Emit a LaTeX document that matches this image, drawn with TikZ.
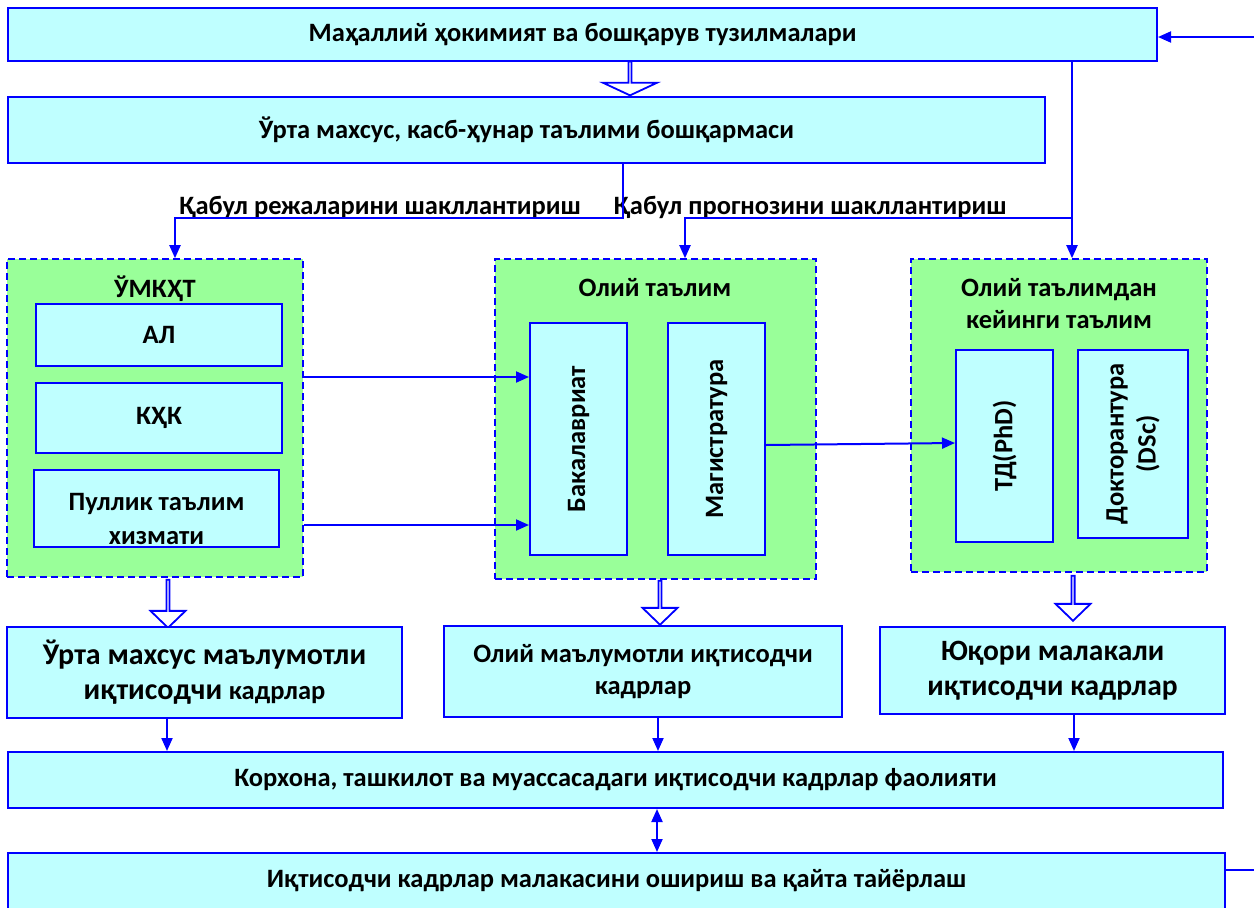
\documentclass[tikz,border=0pt]{standalone}
\usepackage{fontspec}
\setmainfont{Carlito}
\usetikzlibrary{positioning,arrows.meta,shapes.arrows}
\definecolor{boxcyan}{RGB}{191,255,255}
\definecolor{boxgreen}{RGB}{153,255,153}
\definecolor{lineblue}{RGB}{0,0,255}

\begin{document}
\begin{tikzpicture}[x=1pt, y=-1pt, >={Triangle[length=13pt,width=11pt]},
  every node/.style={font=\bfseries\fontsize{26.5}{32}\selectfont},
  box/.style={draw=lineblue, line width=2pt, fill=boxcyan, align=center, inner sep=0pt},
  group/.style={draw=lineblue, line width=1.6pt, dash pattern=on 7pt off 4pt, fill=boxgreen, inner sep=0pt},
  flow/.style={draw=lineblue, line width=2pt},
  hollow/.style={single arrow, draw=lineblue, line width=1.8pt, fill=white, shape border rotate=270,
    inner sep=0pt, single arrow head extend=9pt, single arrow tip angle=92}]
  \useasboundingbox (0,0) rectangle (1254,908);

  % top management
  \node (top) at (582.5,34.5) [box, minimum width=1149pt, minimum height=53pt] {Маҳаллий ҳокимият ва бошқарув тузилмалари};
  \node (mgmt) at (526.5,130) [box, minimum width=1037pt, minimum height=66pt] {Ўрта махсус, касб-ҳунар таълими бошқармаси};
  \node (harr0) at (630,78) [hollow, minimum height=34pt, minimum width=54pt, single arrow head extend=15pt, single arrow tip angle=130] {};

  % education groups
  \node (grp1) at (155,418) [group, minimum width=296pt, minimum height=318pt] {};
  \node (grp2) at (655.5,419) [group, minimum width=321pt, minimum height=320pt] {};
  \node (grp3) at (1059,415.5) [group, minimum width=296pt, minimum height=313pt] {};
  \node (t1) at (155,289) {ЎМКҲТ};
  \node (t2) at (655,288) {Олий таълим};
  \node (t3) at (1059,304) [align=center] {Олий таълимдан\\кейинги таълим};

  \node (al) at (159,335) [box, minimum width=246pt, minimum height=62pt] {АЛ};
  \node (khk) at (159,418) [box, minimum width=246pt, minimum height=70pt] {КҲК};
  \node (paid) at (156.5,508.5) [box, minimum width=245pt, minimum height=77pt] {};
  \begin{scope}
    \clip (paid.south west) ++(1,-2) rectangle (paid.north east);
    \node at (156.5,519) [align=center, font=\bfseries\fontsize{26.5}{34}\selectfont] {Пуллик таълим\\хизмати};
  \end{scope}
  \node (bach) at (578.5,439) [box, minimum width=97pt, minimum height=232pt] {};
  \node (mast) at (716.5,439) [box, minimum width=97pt, minimum height=232pt] {};
  \node (phd) at (1004.5,446) [box, minimum width=97pt, minimum height=192pt] {};
  \node (dsc) at (1133,444) [box, minimum width=110pt, minimum height=188pt] {};
  \node at (bach) [rotate=90] {Бакалавриат};
  \node at (mast) [rotate=90] {Магистратура};
  \node at (phd) [rotate=90] {ТД(PhD)};
  \node at (dsc) [rotate=90, align=center] {Докторантура\\(DSc)};

  % results
  \node (harr1) at (168,603) [hollow, minimum height=48pt, minimum width=35pt] {};
  \node (harr2) at (660,602) [hollow, minimum height=44pt, minimum width=35pt] {};
  \node (harr3) at (1073,597.5) [hollow, minimum height=45pt, minimum width=35pt] {};
  \node (resA) at (204.5,672.5) [box, minimum width=395pt, minimum height=91pt, font=\bfseries\fontsize{30}{35}\selectfont] {Ўрта махсус маълумотли\\иқтисодчи {\fontsize{26.5}{35}\selectfont кадрлар}};
  \node (resB) at (643,671.5) [box, minimum width=398pt, minimum height=91pt] {Олий маълумотли иқтисодчи\\кадрлар};
  \node (resC) at (1052.5,670.5) [box, minimum width=345pt, minimum height=87pt, font=\bfseries\fontsize{29.5}{35}\selectfont] {Юқори малакали\\иқтисодчи кадрлар};
  \node (work) at (615.5,780) [box, minimum width=1215pt, minimum height=56pt] {Корхона, ташкилот ва муассасадаги иқтисодчи кадрлар фаолияти};
  \node (train) at (616.5,884) [box, minimum width=1217pt, minimum height=62pt] {};
  \node at (616.5,881) {Иқтисодчи кадрлар малакасини ошириш ва қайта тайёрлаш};

  % labels
  \node (lab1) at (380,207) {Қабул режаларини шакллантириш};
  \node (lab2) at (810,207) {Қабул прогнозини шакллантириш};

  % connectors
  \coordinate (fbin) at (1254,37);
  \coordinate (fbout) at (1254,870);
  \coordinate (j1) at (623,218);
  \coordinate (j2) at (1072,218);
  \draw[flow,->] (fbin) -- (fbin -| top.east);
  \draw[flow] (train.east |- fbout) -- (fbout);
  \draw[flow,->] (j1 |- mgmt.south) -- (j1) -| (grp1.north -| 175,0);
  \draw[flow,->] (j2 |- top.south) -- (j2 |- grp3.north);
  \draw[flow,->] (j2) -| (grp2.north -| 685,0);
  \draw[flow,->] (grp1.east |- 0,377) -- (bach.west |- 0,377);
  \draw[flow,->] (grp1.east |- 0,525) -- (bach.west |- 0,525);
  \draw[flow,->] (mast.east |- 0,445) -- (phd.west |- 0,443);
  \draw[flow,->] (resA.south -| 167,0) -- (work.north -| 167,0);
  \draw[flow,->] (resB.south -| 658,0) -- (work.north -| 658,0);
  \draw[flow,->] (resC.south -| 1074,0) -- (work.north -| 1074,0);
  \draw[flow,<->] (work.south -| 657,0) -- (train.north -| 657,0);
\end{tikzpicture}
\end{document}
